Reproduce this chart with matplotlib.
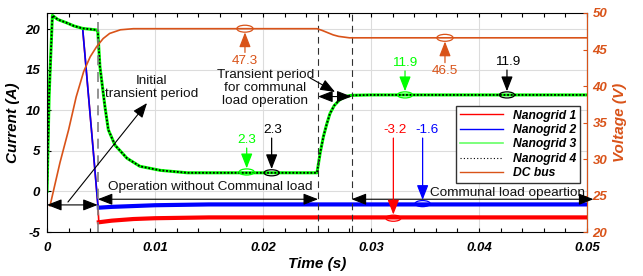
import matplotlib
matplotlib.use('Agg')
import matplotlib.pyplot as plt
from matplotlib.patches import Ellipse
from matplotlib.lines import Line2D

plt.rcParams['font.family'] = ['Liberation Sans', 'DejaVu Sans']
plt.rcParams['axes.unicode_minus'] = False

# nanogrid 3 / 4 currents (A)
t_ng34 = [0, 0.0002, 0.0005, 0.001, 0.0018, 0.0025, 0.0033, 0.004, 0.00465, 0.0047,
          0.0049, 0.00537, 0.00568, 0.0063, 0.0074, 0.0086, 0.0105, 0.013, 0.025,
          0.0253, 0.0256, 0.0259, 0.0262, 0.0266, 0.0271, 0.0276, 0.0282, 0.03, 0.05]
i_ng34 = [0, 12, 21.7, 21.2, 20.8, 20.4, 20.1, 20.0, 19.9, 19.8,
          15.4, 10.4, 7.6, 5.7, 4.1, 3.1, 2.6, 2.3, 2.3,
          4.8, 6.8, 8.3, 9.6, 10.6, 11.3, 11.7, 11.85, 11.9, 11.9]

# nanogrid 2 current (A)
t_ng2 = [0, 0.0002, 0.0005, 0.001, 0.0018, 0.0025, 0.0033, 0.0042, 0.0047, 0.0048,
         0.006, 0.008, 0.01, 0.015, 0.05]
i_ng2 = [0, 12, 21.7, 21.2, 20.8, 20.4, 20.1, 6.3, -1.5, -2.0,
         -1.9, -1.8, -1.7, -1.6, -1.6]

# nanogrid 1 current (A)
t_ng1 = [0, 0.0002, 0.0005, 0.001, 0.0018, 0.0025, 0.0033, 0.0042, 0.0047, 0.0048,
         0.006, 0.008, 0.01, 0.015, 0.05]
i_ng1 = [0, 12, 21.7, 21.2, 20.8, 20.4, 20.1, 6.3, -1.5, -3.8,
         -3.6, -3.4, -3.3, -3.2, -3.2]

# DC bus voltage (V)
t_dc = [0.00028, 0.0012, 0.002, 0.0027, 0.0034, 0.004, 0.0046, 0.0052, 0.0058, 0.0068,
        0.008, 0.025, 0.0255, 0.026, 0.0265, 0.027, 0.0275, 0.028, 0.05]
v_dc = [23.6, 29.5, 34.0, 38.5, 42.0, 44.0, 45.4, 46.5, 47.2, 47.7,
        47.85, 47.85, 47.6, 47.3, 47.0, 46.8, 46.7, 46.6, 46.6]

orange = '#d95319'
c1, c2, c3 = '#ff0000', '#0000ff', '#00ff00'

fig = plt.figure(figsize=(6.43, 2.76), dpi=100)
ax = fig.add_axes([0.0731, 0.1594, 0.8398, 0.7935])
ax2 = ax.twinx()

# transient part thin, steady part thick (ripple band)
k = 8
ax.plot(t_ng1[:k + 2], i_ng1[:k + 2], color=c1, lw=1.2)
ax.plot(t_ng1[k + 1:], i_ng1[k + 1:], color=c1, lw=3)
ax.plot(t_ng2[:k + 2], i_ng2[:k + 2], color=c2, lw=1.2)
ax.plot(t_ng2[k + 1:], i_ng2[k + 1:], color=c2, lw=3)
ax.plot(t_ng34, i_ng34, color=c3, lw=2.2)
ax.plot(t_ng34, i_ng34, color='black', lw=1.3, ls=(0, (1, 1)))
ax2.plot(t_dc, v_dc, color=orange, lw=1.2)

ax.set_xlim(0, 0.05)
ax.set_ylim(-5, 22)
ax2.set_ylim(20, 50)

ax.set_xticks([0, 0.01, 0.02, 0.03, 0.04, 0.05])
ax.set_xticklabels(['0', '0.01', '0.02', '0.03', '0.04', '0.05'])
ax.set_xticks([0.002 * k for k in range(26)], minor=True)
ax.set_yticks([-5, 0, 5, 10, 15, 20])
ax2.set_yticks([20, 25, 30, 35, 40, 45, 50])

for lab in ax.get_xticklabels() + ax.get_yticklabels():
    lab.set_fontweight('bold'); lab.set_fontstyle('italic'); lab.set_fontsize(9.5)
for lab in ax2.get_yticklabels():
    lab.set_fontweight('bold'); lab.set_fontstyle('italic'); lab.set_fontsize(9.5)
    lab.set_color(orange)

ax.tick_params(axis='both', which='both', direction='in', top=True, length=3, width=0.8)
ax.tick_params(axis='x', which='major', pad=7)
ax.tick_params(axis='y', which='major', pad=5)
ax2.tick_params(axis='y', direction='in', colors=orange, length=3, width=0.8, pad=4)
ax2.spines['right'].set_color(orange)
for s in ['top', 'left', 'bottom']:
    ax2.spines[s].set_visible(False)

ax.grid(True, color='#dcdcdc', lw=0.8)
ax.set_axisbelow(True)

ax.set_xlabel('Time (s)', fontsize=11, fontweight='bold', fontstyle='italic', labelpad=2)
ax.set_ylabel('Current (A)', fontsize=11, fontweight='bold', fontstyle='italic', labelpad=4)
ax2.set_ylabel('Voltage (V)', fontsize=11, fontweight='bold', fontstyle='italic',
               color=orange, labelpad=4)

# period marker lines
ax.axvline(0.00469, color='#808080', ls=(0, (6, 4)), lw=1.2)
ax.axvline(0.0251, color='#303030', ls=(0, (6, 4)), lw=0.8)
ax.axvline(0.0282, color='#303030', ls=(0, (6, 4)), lw=0.8)

afont = dict(fontsize=9.7, color='#111111')
hd = '-|>,head_length=0.9,head_width=0.35'
dbl = dict(arrowstyle='<|-|>,head_length=0.9,head_width=0.35', color='black', lw=0.8,
           shrinkA=0, shrinkB=0)
one = dict(arrowstyle=hd, color='black', lw=0.8, shrinkA=0, shrinkB=0)

ax2.text(0.00972, 12.8, 'Initial\ntransient period', ha='center', va='center',
         transform=ax.transData, linespacing=1.15, **afont)
ax2.annotate('', xy=(0.00926, 10.9), xytext=(0.00194, -1.3), xycoords=ax.transData,
             textcoords=ax.transData, arrowprops=one, annotation_clip=False)
ax2.annotate('', xy=(0.0, -1.66), xytext=(0.0047, -1.66), xycoords=ax.transData,
             textcoords=ax.transData, arrowprops=dbl, annotation_clip=False)

ax2.text(0.00565, 0.55, 'Operation without Communal load', ha='left', va='center',
         transform=ax.transData, **afont)
ax2.annotate('', xy=(0.0047, -0.96), xytext=(0.0251, -0.96), xycoords=ax.transData,
             textcoords=ax.transData, arrowprops=dbl, annotation_clip=False)

ax2.text(0.03546, -0.2, 'Communal load opeartion', ha='left', va='center',
         transform=ax.transData, **afont)
ax2.annotate('', xy=(0.0282, -0.96), xytext=(0.0506, -0.96), xycoords=ax.transData,
             textcoords=ax.transData, arrowprops=dbl, annotation_clip=False)

ax2.text(0.0202, 12.76, 'Transient period\nfor communal\nload operation', ha='center',
         va='center', transform=ax.transData, linespacing=1.1, **afont)
ax2.annotate('', xy=(0.02667, 12.27), xytext=(0.02435, 14.0), xycoords=ax.transData,
             textcoords=ax.transData, arrowprops=one)
ax2.annotate('', xy=(0.0251, 11.7), xytext=(0.0282, 11.7), xycoords=ax.transData,
             textcoords=ax.transData, arrowprops=dbl)

# value call-outs on current axis: (label, color, text x, text y, ellipse x, ellipse y)
callouts = [
    ('2.3', c3, 0.01849, 6.35, 0.01849, 2.4),
    ('2.3', 'black', 0.02093, 7.58, 0.0208, 2.3),
    ('11.9', c3, 0.03315, 15.85, 0.03315, 11.9),
    ('11.9', 'black', 0.04269, 15.97, 0.04259, 11.9),
    ('-3.2', c1, 0.03222, 7.58, 0.03207, -3.3),
    ('-1.6', c2, 0.03515, 7.58, 0.03478, -1.5),
]
for lab, col, tx, ty, ex, ey in callouts:
    ax2.text(tx, ty, lab, ha='center', va='center', transform=ax.transData,
             fontsize=9.7, color=col)
    ax2.add_patch(Ellipse((ex, ey), 0.0014, 0.75, transform=ax.transData, fill=False,
                          ec=col, lw=0.9))
    ax2.annotate('', xy=(ex, ey + 0.45), xytext=(ex, ty - 1.0), xycoords=ax.transData,
                 textcoords=ax.transData,
                 arrowprops=dict(arrowstyle=hd, color=col, lw=0.9, shrinkA=0, shrinkB=0))

# call-outs on voltage axis
vcallouts = [('47.3', 0.01833, 43.4, 47.85), ('46.5', 0.03685, 42.0, 46.6)]
for lab, tx, ty, ey in vcallouts:
    ax2.text(tx, ty, lab, ha='center', va='center', fontsize=9.7, color=orange)
    ax2.add_patch(Ellipse((tx, ey), 0.0015, 0.95, fill=False, ec=orange, lw=0.9))
    ax2.annotate('', xy=(tx, ey - 0.5), xytext=(tx, ty + 1.2),
                 arrowprops=dict(arrowstyle=hd, color=orange, lw=0.9, shrinkA=0, shrinkB=0))

handles = [Line2D([], [], color=c1, lw=1), Line2D([], [], color=c2, lw=1),
           Line2D([], [], color='#66ff66', lw=1.2),
           Line2D([], [], color='black', lw=0.8, ls=(0, (1, 2))),
           Line2D([], [], color=orange, lw=1)]
names = ['Nanogrid 1', 'Nanogrid 2', 'Nanogrid 3', 'Nanogrid 4', 'DC bus']
leg = ax2.legend(handles, names, loc='upper right', bbox_to_anchor=(0.998, 0.603),
                 prop=dict(size=8.7, weight='bold', style='italic'), handlelength=3.6,
                 labelspacing=0.2, borderpad=0.3, handletextpad=0.8, fancybox=False,
                 framealpha=1, edgecolor='#333333')
leg.get_frame().set_linewidth(1.0)
leg.set_zorder(20)

fig.savefig('out.png', dpi=100)
